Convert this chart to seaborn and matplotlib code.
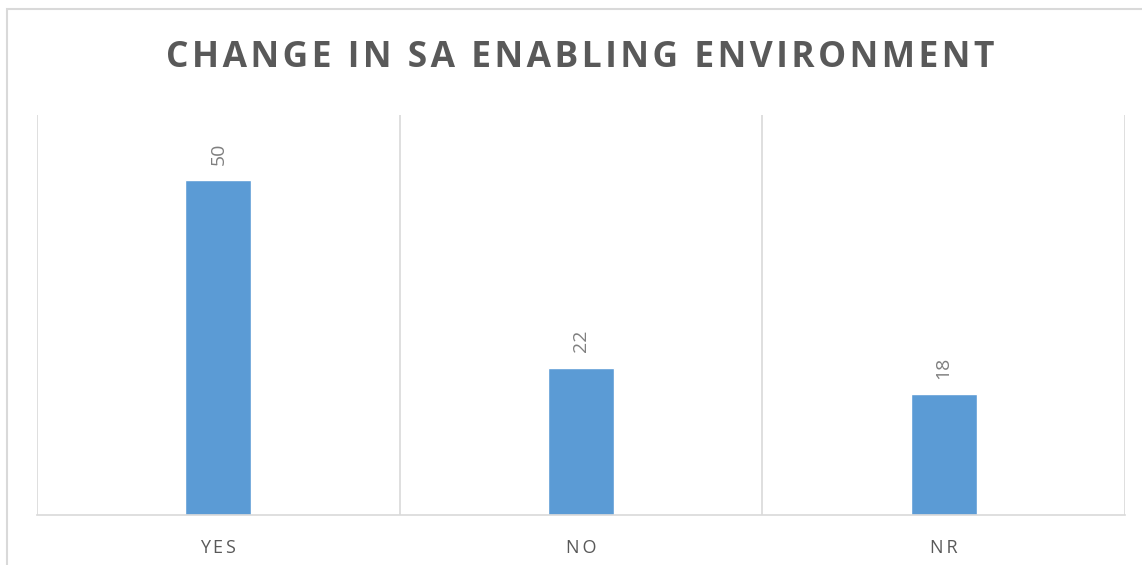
import matplotlib
matplotlib.use("Agg")
import matplotlib.pyplot as plt
import seaborn as sns
import pandas as pd
from matplotlib.patches import Rectangle
from matplotlib.ticker import FixedLocator

categories = ["YES", "NO", "NR"]
values = [50, 22, 18]
title = "CHANGE IN SA ENABLING ENVIRONMENT"

sns.set_theme(style="white")
plt.rcParams['font.family'] = ['Open Sans', 'DejaVu Sans']

def spaced(s, sep="\u200a"):
    return sep.join(list(s))

df = pd.DataFrame({"cat": categories, "val": values})

fig = plt.figure(figsize=(11.42, 5.65), dpi=100)
ax = fig.add_axes([37/1142, 50/565, (1125-37)/1142, 400/565])

sns.barplot(data=df, x="cat", y="val", color="#5b9bd5", width=0.182,
            saturation=1, ax=ax)

ax.set_ylim(0, 59.7)
ax.set_xlim(-0.5, len(categories) - 0.5)
ax.set_yticks([])
ax.set_xlabel("")
ax.set_ylabel("")
ax.set_xticks(range(len(categories)))
ax.set_xticklabels([spaced(c, "\u2009") for c in categories], fontsize=13, color="#595959")
ax.tick_params(axis="x", length=0, pad=17)

ax.xaxis.set_minor_locator(FixedLocator([i - 0.5 for i in range(len(categories) + 1)]))
ax.grid(which="minor", axis="x", color="#d9d9d9", linewidth=1.2)
ax.tick_params(axis="x", which="minor", length=0)
for s in ["top", "left", "right"]:
    ax.spines[s].set_visible(False)
ax.spines["bottom"].set_color("#d9d9d9")
ax.spines["bottom"].set_linewidth(1.2)

for c in ax.containers:
    ax.bar_label(c, labels=[str(v) for v in values], rotation=90, padding=11,
                 fontsize=14, color="#7f7f7f")

fig.text(580/1142, 1 - 58/565, spaced(title), ha="center", va="center",
         fontsize=25.5, fontweight="bold", color="#595959")

fig.patches.append(Rectangle((7/1142, -0.1), 1.2, 1.1 - 9/565,
                             transform=fig.transFigure, fill=False,
                             edgecolor="#d9d9d9", linewidth=1.5))

fig.savefig("out.png", dpi=100)
